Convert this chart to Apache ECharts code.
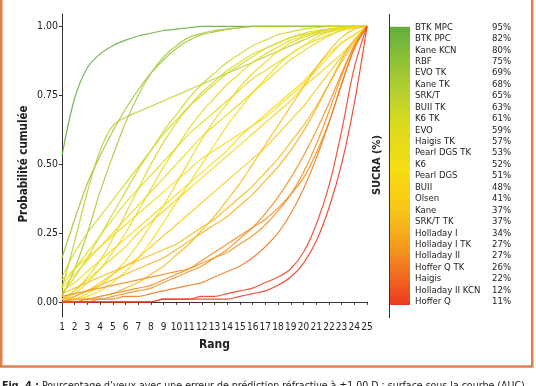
<!DOCTYPE html>
<html><head><meta charset="utf-8">
<script src="https://cdn.jsdelivr.net/npm/echarts@6/dist/echarts.min.js"></script>
<style>html,body{margin:0;padding:0;background:#fff}#c{width:536px;height:386px}</style>
</head><body><div id="c"></div>
<script>
// ---- data ----
const ranks = [1,2,3,4,5,6,7,8,9,10,11,12,13,14,15,16,17,18,19,20,21,22,23,24,25];
const yTicks = [0, 0.25, 0.5, 0.75, 1];
const treatments = ['BTK MPC','BTK PPC','Kane KCN','RBF','EVO TK','Kane TK','SRK/T','BUII TK','K6 TK','EVO','Haigis TK','Pearl DGS TK','K6','Pearl DGS','BUII','Olsen','Kane','SRK/T TK','Holladay I','Holladay I TK','Holladay II','Hoffer Q TK','Haigis','Holladay II KCN','Hoffer Q'];
const sucra = [95,82,80,75,69,68,65,63,61,59,57,53,52,51,48,41,37,37,34,27,27,26,22,12,11];

const cum_BTK_MPC = [0.53,0.74,0.85,0.90,0.93,0.95,0.965,0.975,0.985,0.99,0.995,1,1,1,1,1,1,1,1,1,1,1,1,1,1];
const cum_BTK_PPC = [0.16,0.30,0.43,0.53,0.62,0.70,0.77,0.83,0.88,0.92,0.95,0.97,0.98,0.99,0.995,1,1,1,1,1,1,1,1,1,1];
const cum_Kane_KCN = [0.02,0.12,0.25,0.40,0.53,0.65,0.75,0.83,0.89,0.93,0.96,0.975,0.985,0.99,0.995,1,1,1,1,1,1,1,1,1,1];
const cum_RBF = [0.05,0.22,0.40,0.55,0.64,0.67,0.69,0.71,0.73,0.75,0.77,0.79,0.81,0.83,0.85,0.87,0.89,0.91,0.93,0.95,0.97,0.98,0.99,1,1];
const cum_EVO_TK = [0.03,0.09,0.16,0.24,0.32,0.40,0.48,0.55,0.62,0.68,0.74,0.79,0.83,0.87,0.90,0.93,0.95,0.97,0.98,0.99,0.995,1,1,1,1];
const cum_Kane_TK = [0.09,0.18,0.25,0.31,0.37,0.43,0.49,0.55,0.61,0.66,0.71,0.75,0.79,0.83,0.86,0.89,0.92,0.94,0.96,0.975,0.985,0.99,0.995,1,1];
const cum_SRK_T = [0.01,0.04,0.09,0.15,0.23,0.32,0.41,0.50,0.58,0.65,0.71,0.76,0.80,0.84,0.87,0.90,0.92,0.94,0.96,0.97,0.98,0.99,0.995,1,1];
const cum_BUII_TK = [0.06,0.12,0.18,0.24,0.30,0.36,0.41,0.46,0.51,0.56,0.61,0.65,0.69,0.73,0.77,0.81,0.84,0.87,0.90,0.93,0.95,0.97,0.985,0.995,1];
const cum_K6_TK = [0.01,0.03,0.07,0.12,0.18,0.25,0.33,0.41,0.49,0.56,0.63,0.69,0.74,0.79,0.83,0.87,0.90,0.925,0.95,0.965,0.978,0.988,0.995,0.999,1];
const cum_EVO = [0.05,0.10,0.15,0.20,0.25,0.30,0.35,0.40,0.45,0.50,0.55,0.60,0.64,0.68,0.72,0.76,0.80,0.84,0.88,0.91,0.94,0.965,0.985,0.995,1];
const cum_Haigis_TK = [0,0.01,0.03,0.06,0.10,0.15,0.21,0.28,0.35,0.43,0.51,0.59,0.66,0.72,0.78,0.83,0.87,0.91,0.94,0.96,0.975,0.985,0.993,0.998,1];
const cum_Pearl_DGS_TK = [0.08,0.12,0.16,0.20,0.24,0.28,0.32,0.36,0.40,0.44,0.48,0.52,0.55,0.58,0.61,0.64,0.67,0.71,0.75,0.79,0.84,0.89,0.94,0.97,1];
const cum_K6 = [0,0.01,0.02,0.04,0.07,0.11,0.16,0.22,0.29,0.36,0.43,0.50,0.57,0.64,0.70,0.76,0.81,0.86,0.90,0.93,0.96,0.98,0.99,0.997,1];
const cum_Pearl_DGS = [0.04,0.07,0.11,0.15,0.19,0.23,0.27,0.31,0.35,0.39,0.43,0.47,0.51,0.55,0.60,0.64,0.68,0.72,0.76,0.80,0.85,0.90,0.94,0.97,1];
const cum_BUII = [0.01,0.04,0.08,0.12,0.16,0.20,0.25,0.29,0.33,0.37,0.41,0.45,0.49,0.53,0.57,0.61,0.65,0.69,0.73,0.78,0.82,0.86,0.90,0.95,1];
const cum_Olsen = [0,0.02,0.04,0.07,0.10,0.13,0.16,0.20,0.24,0.28,0.32,0.36,0.40,0.44,0.48,0.52,0.56,0.61,0.66,0.71,0.77,0.83,0.89,0.95,1];
const cum_Kane = [0.03,0.05,0.07,0.09,0.11,0.13,0.15,0.17,0.19,0.21,0.24,0.27,0.30,0.34,0.38,0.42,0.47,0.52,0.58,0.64,0.71,0.79,0.87,0.94,1];
const cum_SRK_T_TK = [0,0,0.01,0.02,0.03,0.05,0.07,0.10,0.13,0.17,0.21,0.26,0.31,0.37,0.43,0.50,0.57,0.64,0.71,0.78,0.85,0.91,0.96,0.99,1];
const cum_Holladay_I = [0.01,0.02,0.04,0.06,0.08,0.10,0.12,0.14,0.16,0.19,0.22,0.25,0.28,0.31,0.35,0.39,0.44,0.49,0.55,0.62,0.70,0.79,0.88,0.95,1];
const cum_Holladay_I_TK = [0,0,0.01,0.01,0.02,0.03,0.04,0.05,0.07,0.09,0.11,0.13,0.16,0.19,0.23,0.27,0.32,0.38,0.45,0.53,0.62,0.72,0.83,0.93,1];
const cum_Holladay_II = [0.02,0.03,0.04,0.05,0.06,0.07,0.08,0.09,0.10,0.11,0.12,0.14,0.16,0.18,0.21,0.24,0.28,0.33,0.39,0.47,0.57,0.69,0.82,0.93,1];
const cum_Hoffer_Q_TK = [0,0.01,0.01,0.02,0.03,0.04,0.05,0.06,0.08,0.10,0.12,0.15,0.18,0.21,0.24,0.27,0.30,0.34,0.39,0.45,0.54,0.65,0.79,0.92,1];
const cum_Haigis = [0,0,0,0.01,0.01,0.02,0.02,0.03,0.04,0.05,0.06,0.07,0.09,0.11,0.13,0.16,0.20,0.25,0.32,0.41,0.52,0.65,0.79,0.92,1];
const cum_Holladay_II_KCN = [0,0,0,0,0,0,0,0,0.01,0.01,0.01,0.02,0.02,0.03,0.04,0.05,0.07,0.09,0.12,0.18,0.28,0.42,0.62,0.85,1];
const cum_Hoffer_Q = [0,0,0,0,0,0,0,0,0.01,0.01,0.01,0.01,0.01,0.01,0.02,0.03,0.04,0.06,0.09,0.14,0.22,0.34,0.50,0.72,1];

const curves = [cum_BTK_MPC,cum_BTK_PPC,cum_Kane_KCN,cum_RBF,cum_EVO_TK,cum_Kane_TK,cum_SRK_T,cum_BUII_TK,cum_K6_TK,cum_EVO,cum_Haigis_TK,cum_Pearl_DGS_TK,cum_K6,cum_Pearl_DGS,cum_BUII,cum_Olsen,cum_Kane,cum_SRK_T_TK,cum_Holladay_I,cum_Holladay_I_TK,cum_Holladay_II,cum_Hoffer_Q_TK,cum_Haigis,cum_Holladay_II_KCN,cum_Hoffer_Q];

// ---- style ----
const FONT = "'Liberation Sans Narrow','DejaVu Sans Condensed','Roboto Condensed',Roboto,sans-serif";
const SMIN = 11, SMAX = 95;
const colorStops = [[11,'#ec3a22'],[20,'#f06c21'],[30,'#f5a11c'],[40,'#f8c617'],[52,'#f7dd12'],[66,'#d9da1f'],[80,'#a3c935'],[95,'#62ae3d']];
function hex2rgb(h){return [parseInt(h.substr(1,2),16),parseInt(h.substr(3,2),16),parseInt(h.substr(5,2),16)];}
function colorFor(s){
  for(let i=0;i<colorStops.length-1;i++){
    const [a,ca]=colorStops[i],[b,cb]=colorStops[i+1];
    if(s<=b){const t=Math.max(0,(s-a)/(b-a));const A=hex2rgb(ca),B=hex2rgb(cb);
      return 'rgb('+A.map((v,k)=>Math.round(v+(B[k]-v)*t)).join(',')+')';}
  }
  return colorStops[colorStops.length-1][1];
}

const series = curves.map((arr,i)=>({
  name: treatments[i], type:'line', data: ranks.map((r,k)=>[r,arr[k]]),
  smooth: 0.35, symbol:'none', silent:true,
  lineStyle:{width:1.2, opacity:0.88, color: colorFor(sucra[i])}
}));

const barTop = 26.7, barBot = 305, barX = 389, barW = 21;
const rowY0 = 27.3, rowStep = 11.43;
const graphics = [
  {type:'rect', shape:{x:1.25,y:-5,width:531,height:371.5}, style:{fill:'none', stroke:'#e2804d', lineWidth:2.5}, z:0},
  {type:'rect', shape:{x:barX,y:barTop,width:barW,height:barBot-barTop},
   style:{fill:new echarts.graphic.LinearGradient(0,0,0,1, colorStops.slice().reverse().map(([s,c])=>({offset:(SMAX-s)/(SMAX-SMIN), color:c})))}},
  {type:'line', shape:{x1:barX+0.5,y1:14,x2:barX+0.5,y2:318}, style:{stroke:'#333', lineWidth:1}},
  {type:'text', x:377, y:165, rotation:Math.PI/2, style:{text:'SUCRA (%)', font:'bold 11px '+FONT, fill:'#222', textAlign:'center', textVerticalAlign:'middle'}},
  {type:'text', x:24, y:164, rotation:Math.PI/2, style:{text:'Probabilité cumulée', font:'bold 11.5px '+FONT, fill:'#222', textAlign:'center', textVerticalAlign:'middle'}},
  {type:'text', x:214.5, y:345, style:{text:'Rang', font:'bold 12px '+FONT, fill:'#222', textAlign:'center', textVerticalAlign:'middle'}},
  {type:'text', x:2, y:380.5, style:{text:'{b|Fig. 4 :} Pourcentage d\u2019yeux avec une erreur de prédiction réfractive à ±1,00 D ; surface sous la courbe (AUC)',
    font:'10.5px '+FONT, fill:'#222', textVerticalAlign:'top',
    rich:{b:{font:'bold 10.5px '+FONT, fill:'#222'}}}}
];
treatments.forEach((t,i)=>{
  const y = rowY0 + i*rowStep;
  graphics.push({type:'text', x:415, y:y, style:{text:t, font:'9.5px '+FONT, fill:'#222', textAlign:'left', textVerticalAlign:'middle'}});
  graphics.push({type:'text', x:511, y:y, style:{text:sucra[i]+'%', font:'9.5px '+FONT, fill:'#222', textAlign:'right', textVerticalAlign:'middle'}});
});

const chart = echarts.init(document.getElementById('c'));
chart.setOption({
  animation:false,
  backgroundColor:'#fff',
  grid:{left:62, right:169, top:14, bottom:69},
  xAxis:{type:'value', min:1, max:25, interval:1,
    axisLine:{lineStyle:{color:'#333', width:1}},
    axisTick:{length:3, lineStyle:{color:'#333'}},
    axisLabel:{fontSize:10, color:'#222', margin:5, fontFamily:FONT},
    splitLine:{show:false}},
  yAxis:{type:'value', min:-0.055, max:1.045,
    axisLine:{show:true, lineStyle:{color:'#333', width:1}},
    axisTick:{show:true, length:3, customValues:yTicks, lineStyle:{color:'#333'}},
    axisLabel:{customValues:yTicks, formatter:v=>v.toFixed(2), fontSize:10.5, color:'#222', margin:4, fontFamily:FONT},
    splitLine:{show:false}},
  series: series,
  graphic: graphics
});
</script>
</body></html>
